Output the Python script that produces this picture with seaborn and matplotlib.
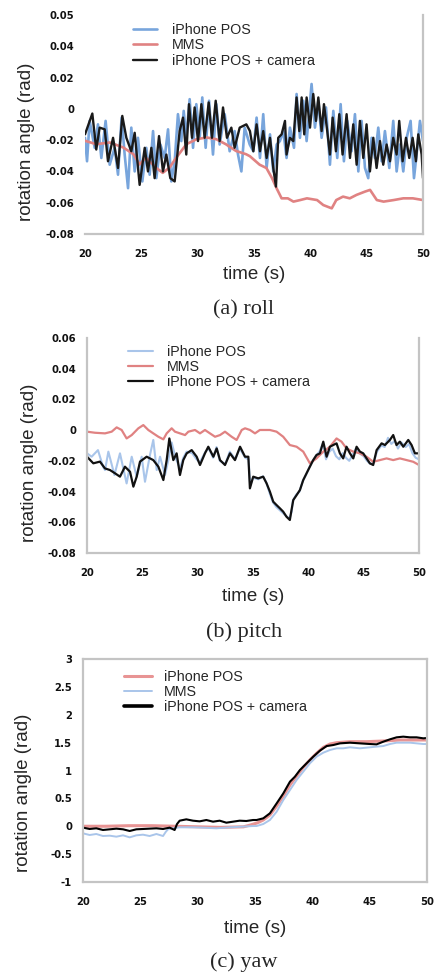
import matplotlib
matplotlib.use("Agg")
import matplotlib.pyplot as plt
import seaborn as sns

# ---------------- roll ----------------
roll_pos_t = [20.0, 20.18, 20.41, 20.86, 21.15, 21.45, 21.83, 22.19, 22.63, 22.93, 23.25, 23.52, 23.82,
              24.11, 24.41, 24.70, 25.09, 25.44, 25.74, 26.04, 26.33, 26.69, 27.07, 27.37, 27.66, 27.96,
              28.25, 28.55, 28.76, 28.99, 29.29, 29.59, 29.88, 30.18, 30.41, 30.71, 31.01, 31.36, 31.66,
              31.95, 32.40, 32.84, 33.28, 33.58, 33.88, 34.17, 34.62, 34.94, 35.23, 35.53, 35.82, 36.12,
              36.42, 36.71, 37.01, 37.30, 37.60, 37.89, 38.19, 38.55, 38.78, 39.08, 39.37, 39.67, 40.11,
              40.41, 40.71, 41.00, 41.39, 41.74, 42.04, 42.39, 42.69, 42.98, 43.28, 43.66, 43.96, 44.26,
              44.55, 44.85, 45.14, 45.44, 45.73, 46.03, 46.33, 46.62, 47.01, 47.36, 47.66, 47.95, 48.25,
              48.55, 48.90, 49.20, 49.43, 49.73, 50.0]
roll_pos = [-0.0185, -0.0335, -0.0077, -0.0249, -0.0099, -0.0314, -0.0077, -0.0357, -0.0249, -0.0421,
            -0.0056, -0.0292, -0.0507, -0.0120, -0.0400, -0.0185, -0.0464, -0.0249, -0.0421, -0.0142,
            -0.0443, -0.0228, -0.0314, -0.0131, -0.0464, -0.0335, -0.0034, -0.0206, -0.0013, -0.0185,
            0.0062, -0.0249, 0.0030, -0.0185, 0.0073, -0.0249, 0.0052, -0.0292, 0.0030, -0.0228,
            -0.0034, -0.0271, -0.0142, -0.0292, -0.0400, -0.0120, -0.0228, -0.0271, -0.0056, -0.0314,
            -0.0034, -0.0378, -0.0163, -0.0400, -0.0228, -0.0206, -0.0142, -0.0314, -0.0120, -0.0249,
            0.0095, -0.0185, 0.0052, -0.0206, 0.0159, -0.0120, 0.0052, -0.0185, 0.0009, -0.0357,
            -0.0013, -0.0314, 0.0030, -0.0335, -0.0077, -0.0271, -0.0034, -0.0400, -0.0077, -0.0378,
            -0.0443, -0.0185, -0.0314, -0.0120, -0.0335, -0.0142, -0.0378, -0.0077, -0.0400, -0.0228,
            -0.0400, -0.0185, -0.0077, -0.0443, -0.0292, -0.0077, -0.0206]

roll_mms_t = [20.0, 21.0, 22.2, 23.4, 24.3, 24.85, 25.4, 26.3, 26.9, 27.5, 28.1, 28.55, 29.0, 29.9, 30.8,
              31.65, 32.5, 33.4, 34.3, 34.64, 35.5, 36.1, 36.6, 37.0, 37.45, 38.0, 38.5, 39.1, 39.7, 40.6,
              41.15, 41.9, 42.3, 42.9, 43.5, 44.1, 44.85, 45.3, 45.9, 46.5, 47.4, 48.25, 49.1, 50.0]
roll_mms = [-0.0204, -0.0226, -0.0215, -0.0247, -0.0290, -0.0355, -0.0312, -0.0376, -0.0409, -0.0376,
            -0.0312, -0.0269, -0.0226, -0.0194, -0.0183, -0.0194, -0.0226, -0.0269, -0.0290, -0.0303,
            -0.0357, -0.0378, -0.0443, -0.0507, -0.0572, -0.0572, -0.0593, -0.0583, -0.0572, -0.0583,
            -0.0615, -0.0636, -0.0583, -0.0561, -0.0572, -0.0550, -0.0529, -0.0518, -0.0583, -0.0593,
            -0.0583, -0.0572, -0.0572, -0.0583]

roll_cam_t = [20.0, 20.65, 21.0, 21.3, 21.75, 22.04, 22.49, 22.93, 23.31, 23.67, 24.11, 24.41, 24.85,
              25.30, 25.59, 25.89, 26.18, 26.57, 26.92, 27.22, 27.57, 27.96, 28.40, 28.70, 28.99, 29.23,
              29.50, 29.73, 30.03, 30.33, 30.62, 30.98, 31.27, 31.60, 31.95, 32.25, 32.60, 32.99, 33.28,
              33.73, 34.32, 34.64, 34.94, 35.23, 35.53, 35.82, 36.12, 36.42, 36.71, 36.95, 37.15, 37.45,
              37.75, 37.89, 38.19, 38.49, 38.78, 39.02, 39.23, 39.46, 39.67, 39.97, 40.26, 40.50, 40.71,
              41.00, 41.21, 41.50, 41.74, 41.98, 42.27, 42.57, 42.86, 43.22, 43.52, 43.81, 44.11, 44.40,
              44.70, 44.99, 45.29, 45.59, 45.88, 46.18, 46.47, 46.77, 47.07, 47.36, 47.66, 47.89, 48.19,
              48.49, 48.78, 49.08, 49.37, 49.58, 49.88, 50.0]
roll_cam = [-0.0163, -0.0030, -0.0260, -0.0120, -0.0131, -0.0335, -0.0185, -0.0378, -0.0045, -0.0185,
            -0.0271, -0.0153, -0.0486, -0.0249, -0.0400, -0.0249, -0.0443, -0.0174, -0.0400, -0.0292,
            -0.0443, -0.0464, -0.0142, -0.0056, -0.0292, 0.0030, -0.0185, 0.0009, -0.0206, 0.0030,
            -0.0185, 0.0041, -0.0185, 0.0052, -0.0206, 0.0009, -0.0185, -0.0120, -0.0249, -0.0120,
            -0.0099, -0.0142, -0.0271, -0.0099, -0.0271, -0.0142, -0.0314, -0.0185, -0.0378, -0.0497,
            -0.0185, -0.0163, -0.0077, -0.0292, -0.0185, -0.0206, 0.0073, -0.0142, 0.0073, -0.0163,
            0.0073, -0.0120, 0.0095, -0.0077, 0.0073, -0.0142, 0.0030, -0.0142, -0.0292, -0.0056,
            -0.0271, -0.0034, -0.0292, -0.0034, -0.0314, -0.0099, -0.0357, -0.0077, -0.0314, -0.0099,
            -0.0400, -0.0185, -0.0378, -0.0206, -0.0357, -0.0228, -0.0335, -0.0185, -0.0292, -0.0077,
            -0.0335, -0.0185, -0.0314, -0.0185, -0.0335, -0.0163, -0.0292, -0.0443]

# ---------------- pitch ----------------
pitch_pos_t = [20.0, 20.42, 20.99, 21.45, 21.63, 21.93, 22.48, 22.98, 23.58, 24.04, 24.49, 24.94, 25.24,
               25.69, 25.99, 26.30, 26.60, 27.05, 27.35, 27.65, 28.0, 28.4, 28.7, 29.0, 29.5, 29.9, 30.2,
               30.7, 31.0, 31.4, 31.7, 32.0, 32.5, 32.9, 33.4, 33.8, 34.3, 34.6, 34.75, 35.0, 35.5, 35.9,
               36.2, 36.5, 36.8, 37.1, 37.4, 37.7, 38.0, 38.3, 38.5, 38.6, 38.9, 39.2, 39.5, 39.8, 40.1,
               40.4, 40.7, 41.0, 41.3, 41.6, 41.9, 42.2, 42.5, 42.8, 43.1, 43.4, 43.7, 44.0, 44.3, 44.6,
               45.0, 45.3, 45.6, 45.9, 46.2, 46.6, 46.9, 47.2, 47.5, 47.8, 48.1, 48.4, 48.8, 49.1, 49.4,
               49.7, 50.0]
pitch_pos = [-0.0151, -0.0173, -0.0130, -0.0238, -0.0260, -0.0140, -0.0292, -0.0151, -0.0347, -0.0173,
             -0.0303, -0.0173, -0.0336, -0.0162, -0.0064, -0.0260, -0.0173, -0.0292, -0.0195, -0.0080,
             -0.0180, -0.0250, -0.0180, -0.0140, -0.0150, -0.0190, -0.0210, -0.0140, -0.0120, -0.0180,
             -0.0110, -0.0200, -0.0220, -0.0140, -0.0190, -0.0120, -0.0180, -0.0190, -0.0360, -0.0310,
             -0.0320, -0.0300, -0.0340, -0.0410, -0.0470, -0.0500, -0.0520, -0.0540, -0.0560, -0.0575,
             -0.0530, -0.0460, -0.0420, -0.0400, -0.0330, -0.0290, -0.0240, -0.0200, -0.0165, -0.0140,
             -0.0090, -0.0190, -0.0140, -0.0120, -0.0170, -0.0190, -0.0150, -0.0180, -0.0200, -0.0160,
             -0.0120, -0.0150, -0.0170, -0.0200, -0.0220, -0.0215, -0.0140, -0.0100, -0.0110, -0.0050,
             -0.0090, -0.0070, -0.0120, -0.0080, -0.0110, -0.0090, -0.0150, -0.0180, -0.0190]

pitch_mms_t = [20.0, 20.72, 21.63, 22.23, 22.68, 23.13, 23.58, 24.04, 24.64, 25.09, 25.54, 25.99, 26.45,
               26.90, 27.20, 27.65, 27.95, 28.40, 28.86, 29.16, 29.76, 30.21, 30.66, 31.11, 31.57, 32.02,
               32.47, 33.07, 33.52, 33.98, 34.28, 34.73, 35.18, 35.62, 36.53, 37.13, 37.73, 38.33, 38.94,
               39.54, 40.14, 40.74, 41.35, 41.95, 42.55, 43.0, 43.45, 44.06, 44.66, 45.26, 45.86, 46.47,
               47.07, 47.67, 48.27, 48.88, 49.48, 50.0]
pitch_mms = [-0.0010, -0.0017, -0.0021, -0.0010, 0.0018, 0.0001, -0.0054, -0.0032, 0.0012, 0.0033,
             0.0001, -0.0021, -0.0043, -0.0060, -0.0021, 0.0012, -0.0010, -0.0021, -0.0032, -0.0010,
             0.0001, -0.0021, 0.0001, -0.0021, -0.0043, -0.0032, -0.0010, -0.0043, -0.0064, 0.0001,
             0.0012, 0.0001, -0.0021, 0.0001, 0.0001, -0.0010, -0.0043, -0.0097, -0.0108, -0.0140,
             -0.0216, -0.0184, -0.0140, -0.0108, -0.0054, -0.0075, -0.0119, -0.0140, -0.0151, -0.0173,
             -0.0206, -0.0195, -0.0184, -0.0195, -0.0184, -0.0195, -0.0206, -0.0227]

pitch_cam_t = [20.0, 20.57, 21.17, 21.62, 22.08, 22.53, 22.98, 23.43, 23.89, 24.19, 24.49, 24.79, 25.39,
               25.99, 26.45, 26.90, 27.20, 27.44, 27.80, 28.10, 28.40, 28.70, 29.01, 29.46, 29.91, 30.21,
               30.66, 30.96, 31.42, 31.72, 32.02, 32.47, 32.92, 33.37, 33.83, 34.28, 34.58, 34.72, 35.02,
               35.47, 35.92, 36.23, 36.53, 36.83, 37.13, 37.43, 37.73, 38.03, 38.33, 38.48, 38.64, 38.94,
               39.24, 39.54, 39.84, 40.14, 40.44, 40.74, 41.05, 41.35, 41.65, 41.95, 42.25, 42.55, 42.85,
               43.15, 43.45, 43.76, 44.06, 44.36, 44.66, 44.96, 45.26, 45.56, 45.86, 46.17, 46.62, 46.92,
               47.37, 47.67, 47.97, 48.27, 48.58, 49.03, 49.33, 49.63, 50.0]
pitch_cam = [-0.0173, -0.0216, -0.0205, -0.0249, -0.0260, -0.0281, -0.0303, -0.0238, -0.0271, -0.0368,
             -0.0303, -0.0205, -0.0173, -0.0195, -0.0238, -0.0325, -0.0195, -0.0054, -0.0195, -0.0151,
             -0.0292, -0.0195, -0.0151, -0.0130, -0.0173, -0.0227, -0.0151, -0.0108, -0.0173, -0.0119,
             -0.0195, -0.0227, -0.0151, -0.0195, -0.0108, -0.0173, -0.0173, -0.0379, -0.0303, -0.0314,
             -0.0303, -0.0347, -0.0401, -0.0466, -0.0488, -0.0509, -0.0531, -0.0564, -0.0585, -0.0520,
             -0.0455, -0.0423, -0.0390, -0.0325, -0.0281, -0.0238, -0.0195, -0.0162, -0.0151, -0.0075,
             -0.0173, -0.0108, -0.0097, -0.0086, -0.0151, -0.0184, -0.0108, -0.0151, -0.0184, -0.0108,
             -0.0140, -0.0151, -0.0184, -0.0216, -0.0227, -0.0130, -0.0086, -0.0097, -0.0064, -0.0032,
             -0.0097, -0.0075, -0.0108, -0.0064, -0.0097, -0.0151, -0.0151]

# ---------------- yaw ----------------
yaw_pos_t = [20.0, 22.0, 24.0, 26.0, 28.0, 30.0, 32.0, 34.0, 34.56, 35.2, 35.72, 36.30, 36.89, 37.47,
             38.05, 38.63, 39.21, 39.79, 40.37, 40.96, 41.54, 42.12, 43.28, 44.73, 46.19, 47.64, 50.0]
yaw_pos = [0.00, 0.00, 0.01, 0.01, 0.00, -0.01, -0.02, -0.01, 0.02, 0.06, 0.112, 0.202, 0.363, 0.543,
           0.740, 0.901, 1.057, 1.188, 1.308, 1.415, 1.475, 1.499, 1.517, 1.517, 1.529, 1.547, 1.547]

yaw_mms_t = [20.0, 20.58, 21.16, 21.74, 22.33, 22.91, 23.49, 24.07, 24.65, 25.23, 25.81, 26.40, 26.98,
             27.21, 27.41, 27.85, 28.43, 29.59, 30.47, 31.63, 32.79, 33.95, 34.83, 35.14, 35.72, 36.30,
             36.89, 37.47, 38.05, 38.63, 39.21, 39.79, 40.37, 40.96, 41.54, 42.12, 42.70, 43.28, 44.15,
             45.03, 45.60, 46.19, 46.77, 47.35, 48.51, 49.68, 50.0]
yaw_mms = [-0.127, -0.157, -0.139, -0.175, -0.169, -0.187, -0.163, -0.199, -0.163, -0.151, -0.175,
           -0.139, -0.175, -0.103, -0.055, -0.037, -0.019, -0.019, -0.025, -0.037, -0.019, -0.007, 0.004,
           0.004, 0.040, 0.112, 0.262, 0.471, 0.650, 0.830, 0.979, 1.129, 1.248, 1.320, 1.368, 1.398,
           1.398, 1.416, 1.398, 1.416, 1.428, 1.439, 1.475, 1.499, 1.499, 1.475, 1.475]

yaw_cam_t = [20.0, 20.58, 21.16, 21.74, 22.33, 22.91, 23.49, 24.07, 24.65, 25.23, 25.81, 26.40, 26.98,
             27.56, 27.99, 28.20, 28.43, 29.01, 29.59, 30.17, 30.76, 31.34, 31.92, 32.50, 33.08, 33.66,
             34.24, 34.83, 35.14, 35.72, 36.30, 36.89, 37.47, 38.05, 38.48, 38.92, 39.50, 40.08, 40.66,
             41.25, 41.83, 42.41, 43.28, 44.15, 45.03, 45.60, 46.19, 46.77, 47.35, 47.93, 48.51, 49.09,
             49.68, 50.0]
yaw_cam = [-0.025, -0.049, -0.037, -0.067, -0.055, -0.043, -0.055, -0.085, -0.055, -0.049, -0.043,
           -0.037, -0.049, -0.025, -0.067, 0.040, 0.100, 0.124, 0.100, 0.088, 0.112, 0.082, 0.100, 0.064,
           0.082, 0.100, 0.094, 0.112, 0.112, 0.142, 0.232, 0.411, 0.590, 0.800, 0.889, 1.009, 1.129,
           1.248, 1.356, 1.439, 1.457, 1.487, 1.499, 1.487, 1.475, 1.469, 1.517, 1.559, 1.595, 1.607,
           1.595, 1.595, 1.577, 1.583]

# ---------------- axis text ----------------
x_ticks = [20, 25, 30, 35, 40, 45, 50]
x_tick_labels = ["20", "25", "30", "35", "40", "45", "50"]
small_ticks = [-0.08, -0.06, -0.04, -0.02, 0.0, 0.02, 0.04, 0.06]
roll_tick_labels = ["-0.08", "-0.06", "-0.04", "-0.02", "0", "0.02", "0.04", "0.05"]
pitch_tick_labels = ["-0.08", "-0.06", "-0.04", "-0.02", "0", "0.02", "0.04", "0.06"]
yaw_ticks = [-1, -0.5, 0, 0.5, 1, 1.5, 2, 2.5, 3]
yaw_tick_labels = ["-1", "-0.5", "0", "0.5", "1", "1.5", "2", "2.5", "3"]

LABEL_POS = "iPhone POS"
LABEL_MMS = "MMS"
LABEL_CAM = "iPhone POS + camera"

sns.set_style("white")
plt.rcParams["font.family"] = ["Liberation Sans", "DejaVu Sans"]

BLUE = "#78a5dc"
BLUE_LIGHT = "#a9c5ea"
RED = "#e08282"
RED_YAW = "#e89494"
SPINE = "#c4c4c4"

fig = plt.figure(figsize=(4.34, 9.72), dpi=100)
W, H = 434.0, 972.0


def panel(left, top, right, bottom):
    return fig.add_axes([left / W, 1 - bottom / H, (right - left) / W, (bottom - top) / H])


def style(ax, ylim, yticks, ylabels, spines, label_y, legend_anchor, handlelen, textpad, xlabelpad):
    ax.set_xlim(20, 50)
    ax.set_ylim(*ylim)
    ax.set_xticks(x_ticks)
    ax.set_xticklabels(x_tick_labels)
    ax.set_yticks(yticks)
    ax.set_yticklabels(ylabels)
    for side in ["left", "right", "top", "bottom"]:
        ax.spines[side].set_visible(side in spines)
        ax.spines[side].set_color(SPINE)
        ax.spines[side].set_linewidth(1.6)
    ax.tick_params(axis="both", direction="in", length=4, width=0.8, color="#9a9a9a",
                   labelsize=7.2, labelcolor="#111111", pad=8)
    ax.tick_params(axis="x", pad=11)
    for t in ax.get_xticklabels() + ax.get_yticklabels():
        t.set_fontweight("bold")
        t.set_family("DejaVu Sans")
    ax.set_xlabel("time (s)", fontsize=13.5, labelpad=xlabelpad)
    ax.set_ylabel("rotation angle (rad)", fontsize=13.5)
    ax.yaxis.set_label_coords(-0.147, label_y)
    ax.legend(loc="upper left", bbox_to_anchor=legend_anchor, frameon=False, fontsize=10.3,
              borderpad=0, borderaxespad=0, handlelength=handlelen, handletextpad=textpad,
              labelspacing=0.08)


# (a) roll
ax1 = panel(85, 15, 423, 234)
sns.lineplot(x=roll_pos_t, y=roll_pos, ax=ax1, color=BLUE, lw=1.9, label=LABEL_POS,
             estimator=None, sort=False)
sns.lineplot(x=roll_mms_t, y=roll_mms, ax=ax1, color=RED, lw=1.9, label=LABEL_MMS,
             estimator=None, sort=False)
sns.lineplot(x=roll_cam_t, y=roll_cam, ax=ax1, color="#1a1a1a", lw=1.7, label=LABEL_CAM,
             estimator=None, sort=False)
style(ax1, (-0.08, 0.06), small_ticks, roll_tick_labels, ["right", "bottom"], 0.42,
      (0.142, 0.962), 1.7, 1.0, 5)

# (b) pitch
ax2 = panel(87, 338, 419, 553)
sns.lineplot(x=pitch_pos_t, y=pitch_pos, ax=ax2, color=BLUE_LIGHT, lw=1.5, label=LABEL_POS,
             estimator=None, sort=False)
sns.lineplot(x=pitch_mms_t, y=pitch_mms, ax=ax2, color=RED, lw=1.6, label=LABEL_MMS,
             estimator=None, sort=False)
sns.lineplot(x=pitch_cam_t, y=pitch_cam, ax=ax2, color="#111111", lw=1.6, label=LABEL_CAM,
             estimator=None, sort=False)
style(ax2, (-0.08, 0.06), small_ticks, pitch_tick_labels, ["left", "right", "bottom"], 0.42,
      (0.123, 0.967), 1.75, 0.98, 7)

# (c) yaw
ax3 = panel(83, 659, 427, 882)
sns.lineplot(x=yaw_pos_t, y=yaw_pos, ax=ax3, color=RED_YAW, lw=2.2, label=LABEL_POS,
             estimator=None, sort=False)
sns.lineplot(x=yaw_mms_t, y=yaw_mms, ax=ax3, color=BLUE_LIGHT, lw=1.4, label=LABEL_MMS,
             estimator=None, sort=False)
sns.lineplot(x=yaw_cam_t, y=yaw_cam, ax=ax3, color="#000000", lw=1.5, label=LABEL_CAM,
             estimator=None, sort=False)
style(ax3, (-1, 3), yaw_ticks, yaw_tick_labels, ["left", "right", "bottom", "top"], 0.40,
      (0.119, 0.951), 1.95, 0.85, 9)
leg3 = ax3.get_legend()
leg3.get_lines()[2].set_linewidth(2.6)

# captions
for text, y in [("(a) roll", 310), ("(b) pitch", 632), ("(c) yaw", 962)]:
    fig.text(244 / W, 1 - y / H, text, ha="center", va="center", fontsize=16,
             family=["Liberation Serif", "DejaVu Serif"])

fig.savefig("out.png", dpi=100)
